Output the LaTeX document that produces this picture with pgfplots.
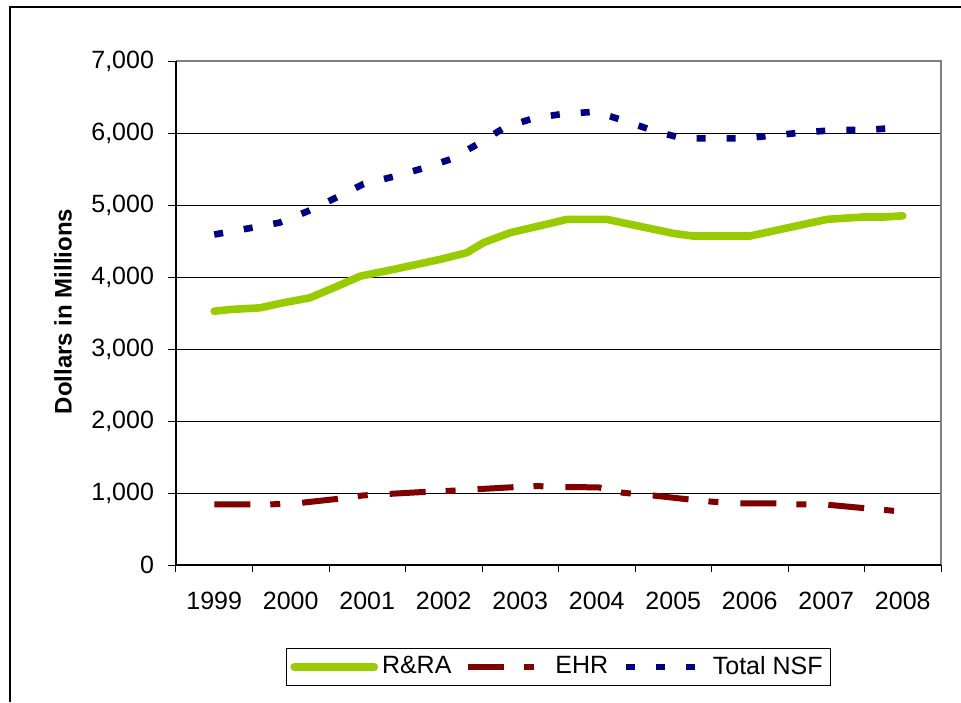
\documentclass[border=0pt]{standalone}
\usepackage{pgfplots}
\pgfplotsset{compat=1.18}
\usepackage{fontspec}
\setmainfont{Liberation Sans}
\definecolor{rragreen}{HTML}{99CC00}
\definecolor{ehrred}{HTML}{800000}
\definecolor{nsfblue}{HTML}{000080}
\begin{document}
\begin{tikzpicture}
\path[use as bounding box] (-88pt,-68.5pt) rectangle (392.5pt,282.5pt);
\draw[line width=1pt] (-82.85pt,-68.5pt) -- (-82.85pt,279pt) -- (392.5pt,279pt);
\begin{axis}[
  scale only axis, width=382.5pt, height=252pt,
  xmin=1998.5, xmax=2008.5, ymin=0, ymax=7000,
  xtick={1999,2000,2001,2002,2003,2004,2005,2006,2007,2008},
  xticklabels={1999,2000,2001,2002,2003,2004,2005,2006,2007,2008},
  minor xtick={1998.5,1999.5,2000.5,2001.5,2002.5,2003.5,2004.5,2005.5,2006.5,2007.5,2008.5},
  ytick={0,1000,...,7000},
  scaled y ticks=false,
  /pgf/number format/.cd, 1000 sep={,}, assume math mode=true, /pgfplots/.cd,
  xtick pos=lower, ytick pos=left,
  tick align=outside,
  major tick length=4pt, minor tick length=3.5pt,
  major x tick style={draw=none},
  tick style={black, line width=0.5pt},
  ymajorgrids=true,
  major grid style={black, line width=0.5pt},
  axis line style={draw=none},
  tick label style={font=\fontsize{12.5}{15}\selectfont},
  xticklabel style={yshift=-6pt},
  yticklabel style={xshift=-3.5pt},
  ylabel={\bfseries Dollars in Millions},
  ylabel style={at={(rel axis cs:0,0.503)}, anchor=center, yshift=56.5pt, font=\fontsize{12}{14}\selectfont},
  clip=false,
  legend columns=-1,
  legend style={at={(0.5,-0.202)}, anchor=center, draw=black, line width=0.6pt,
    font=\fontsize{12.5}{15}\selectfont, inner xsep=2pt, inner ysep=2pt,
    nodes={inner xsep=2pt},
    /tikz/every even column/.append style={column sep=5pt}},
  legend image code/.code={\draw[#1] (0pt,0pt) -- (40pt,0pt);},
]
\addplot[rragreen, line width=3.8pt, line cap=round, line join=round] coordinates {
(1999.0,3525) (1999.21,3549) (1999.60,3572) (1999.90,3642) (2000.25,3711) (2000.56,3850)
(2000.91,4012) (2001.34,4105) (2001.95,4244) (2002.30,4337) (2002.52,4477) (2002.87,4616)
(2003.52,4777) (2003.61,4801) (2004.13,4801) (2005.00,4606) (2005.26,4569) (2006.00,4569)
(2007.01,4801) (2007.48,4833) (2007.75,4833) (2008.0,4850)};
\addlegendentry{R\&RA}
\addplot[ehrred, line width=3pt, dash pattern=on 18pt off 10pt on 5pt off 11pt] coordinates {
(1999.0,843) (1999.6,843) (2000.0,845) (2000.15,865) (2000.6,917) (2000.95,967)
(2001.26,986) (2001.73,1014) (2002.07,1030) (2002.41,1051) (2002.88,1079) (2003.2,1097)
(2003.56,1082) (2004.02,1079) (2004.35,1002) (2004.68,972) (2005.15,917) (2005.5,880)
(2005.83,857) (2006.29,857) (2006.6,843) (2006.96,843) (2007.43,796) (2007.76,765) (2008.0,740)};
\addlegendentry{EHR}
\addplot[nsfblue, line width=3.3pt, dash pattern=on 4.5pt off 10.5pt] coordinates {
(1999.0,4590) (1999.45,4676) (1999.85,4754) (2000.23,4917) (2000.59,5101) (2000.95,5292)
(2001.34,5393) (2001.73,5510) (2002.10,5639) (2002.46,5857) (2002.80,6079) (2003.17,6204)
(2003.52,6260) (2003.98,6296) (2004.36,6171) (2004.74,6032) (2005.12,5926) (2005.52,5926)
(2005.93,5926) (2006.32,5968) (2006.72,6010) (2007.13,6042) (2007.53,6042) (2008.0,6080)};
\addlegendentry{Total NSF}
\draw[gray, line width=1pt] (rel axis cs:0,1) -- (rel axis cs:1,1) -- (rel axis cs:1,0);
\draw[black, line width=0.6pt] (rel axis cs:0,1) -- (rel axis cs:0,0) -- (rel axis cs:1,0);
\end{axis}
\end{tikzpicture}
\end{document}
